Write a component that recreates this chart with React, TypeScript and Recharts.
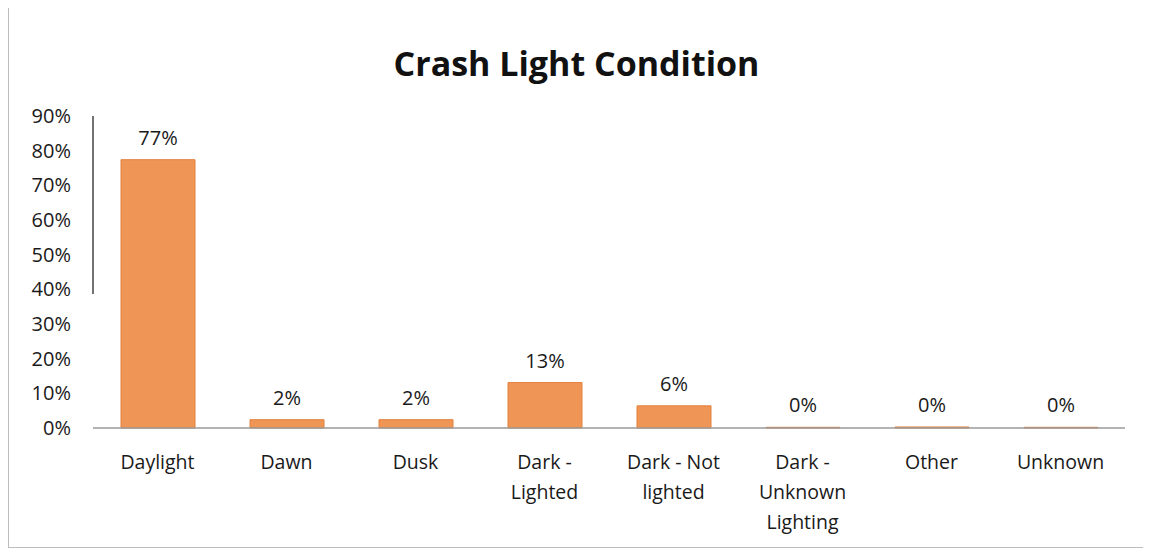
import { BarChart, Bar, XAxis, YAxis, LabelList } from 'recharts'

const categories: string[] = ['Daylight', 'Dawn', 'Dusk', 'Dark - Lighted', 'Dark - Not lighted', 'Dark - Unknown Lighting', 'Other', 'Unknown']
const shares: number[] = [77.4, 2.4, 2.4, 13.1, 6.4, 0.2, 0.3, 0.2]
const tickLines: string[][] = [['Daylight'], ['Dawn'], ['Dusk'], ['Dark -', 'Lighted'], ['Dark - Not', 'lighted'], ['Dark -', 'Unknown', 'Lighting'], ['Other'], ['Unknown']]
const yTicks: number[] = [0, 10, 20, 30, 40, 50, 60, 70, 80, 90]

const data = categories.map((name, i) => ({ name, value: shares[i] }))

const FONT = '"Open Sans", Lato, sans-serif'

const CategoryTick = ({ x, y, index }: any) => {
  const lines = tickLines[index] || []
  return (
    <text x={x} y={y} textAnchor="middle" fill="#1a1a1a" fontSize={19.5} fontFamily={FONT}>
      {lines.map((l, i) => (
        <tspan key={i} x={x} dy={i === 0 ? 33 : 30}>
          {l}
        </tspan>
      ))}
    </text>
  )
}

function App() {
  return (
    <div style={{ position: 'relative', width: 1137, height: 542, marginTop: -2, border: '1px solid #bdbdbd', boxSizing: 'border-box', background: '#fff' }}>
      <div
        style={{
          position: 'absolute',
          left: 0,
          right: 0,
          top: 33,
          textAlign: 'center',
          fontFamily: FONT,
          fontWeight: 700,
          fontSize: 34,
          color: '#111',
        }}
      >
        Crash Light Condition
      </div>
      <BarChart width={1135} height={540} data={data} margin={{ top: 109, right: 19, bottom: 0, left: 0 }} barSize={74}>
        <YAxis
          domain={[0, 90]}
          ticks={yTicks}
          interval={0}
          width={84}
          tickLine={false}
          tickSize={0}
          tickMargin={22}
          axisLine={{ stroke: '#444', strokeWidth: 1.5, strokeDasharray: '178 1000' }}
          tickFormatter={(v: number) => `${v}%`}
          tick={{ fill: '#1a1a1a', fontSize: 20, fontFamily: FONT }}
        />
        <XAxis
          dataKey="name"
          interval={0}
          height={119}
          tickLine={false}
          axisLine={{ stroke: '#9a9a9a', strokeWidth: 1.5 }}
          tick={<CategoryTick />}
        />
        <Bar dataKey="value" fill="#EF9555" stroke="#E3803F" strokeWidth={1} isAnimationActive={false}>
          <LabelList
            dataKey="value"
            position="top"
            offset={15}
            formatter={(v: any) => `${Math.round(Number(v))}%`}
            style={{ fill: '#1a1a1a', fontSize: 20, fontFamily: FONT }}
          />
        </Bar>
      </BarChart>
    </div>
  )
}

export default App
